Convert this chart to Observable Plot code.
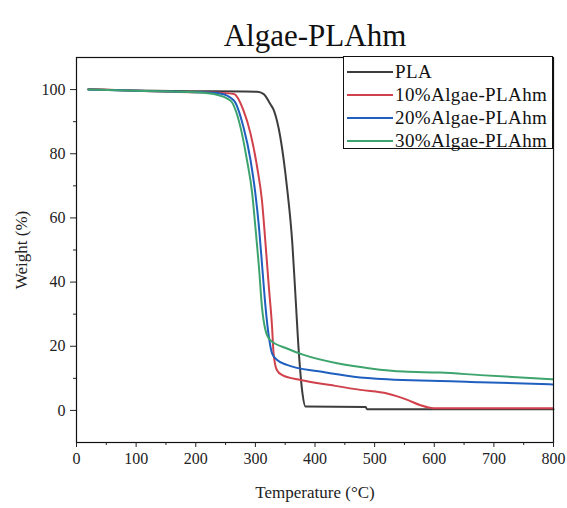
<!DOCTYPE html>
<html>
<head>
<meta charset="utf-8">
<script src="https://cdn.jsdelivr.net/npm/d3@7"></script>
<script src="https://cdn.jsdelivr.net/npm/@observablehq/plot@0.6"></script>
<style>
  html, body { margin: 0; padding: 0; background: #fff; }
  #wrap { position: relative; width: 567px; height: 508px; font-family: "Liberation Serif", "Times New Roman", serif; }
  #legend { position: absolute; left: 343px; top: 56px; width: 208px; height: 91px; border: 1.3px solid #111; background: #fff; }
  .row { position: absolute; left: 0; height: 22px; display: flex; align-items: center; }
  .row svg { margin-left: 3px; }
  .row span { font-family: "Liberation Serif", "Times New Roman", serif; font-size: 19px; color: #111; margin-left: 2px; letter-spacing: 0.4px; }
  #wrap svg text { font-family: "Liberation Serif", "Times New Roman", serif !important; }
</style>
</head>
<body>
<div id="wrap"></div>
<script>
const seriesNames = ["PLA", "10%Algae-PLAhm", "20%Algae-PLAhm", "30%Algae-PLAhm"];
const seriesColors = ["#3d3d3d", "#d0414b", "#1f5fbf", "#3ca46c"];

const plaT = [20, 100, 200, 280, 303, 314, 325, 331, 342, 353, 362, 367, 373, 379, 384, 485, 487, 800];
const plaW = [100, 99.7, 99.5, 99.4, 99.3, 98.6, 95.5, 93.5, 85, 69.6, 52, 36.5, 17.8, 5.3, 1.2, 1.1, 0.4, 0.4];

const alg10T = [20, 100, 200, 240, 264, 280, 292, 303, 311, 317, 322.6, 328, 330.5, 336, 345, 376, 426, 476, 521, 555, 577, 599, 798];
const alg10W = [100.2, 99.6, 99.2, 99.0, 98.6, 93.5, 86.2, 75.8, 65.5, 52, 38.5, 26, 17.8, 12.6, 11.0, 9.5, 7.9, 6.4, 5.3, 3.3, 1.6, 0.7, 0.7];

const alg20T = [20, 100, 200, 240, 264, 280, 292, 300, 306, 311.5, 317, 322.6, 328, 336.5, 353, 409, 465, 521, 577, 610, 677, 798];
const alg20W = [100, 99.6, 99.2, 98.8, 96.6, 88.3, 77.9, 67.6, 57.2, 44.7, 32.3, 23, 17.8, 15.7, 14.2, 12.1, 10.5, 9.7, 9.3, 9.2, 8.8, 8.1];

const alg30T = [20, 100, 200, 230, 258, 275, 286, 294.7, 300, 306, 311, 317, 325, 353, 381, 437, 493, 549, 610, 677, 798];
const alg30W = [100, 99.6, 99.2, 98.6, 96.6, 88.3, 77.9, 67.6, 57.2, 44.7, 32.3, 25, 21.9, 19.3, 17.3, 14.7, 13.1, 12.1, 11.8, 11.0, 9.7];

const xTicks = [0, 100, 200, 300, 400, 500, 600, 700, 800];
const xMinor = [50, 150, 250, 350, 450, 550, 650, 750];
const yTicks = [0, 20, 40, 60, 80, 100];
const yMinor = [10, 30, 50, 70, 90];

const allT = [plaT, alg10T, alg20T, alg30T];
const allW = [plaW, alg10W, alg20W, alg30W];
const data = [];
allT.forEach((ts, i) => ts.forEach((t, j) => data.push({series: seriesNames[i], T: t, W: allW[i][j]})));

const font = '"Liberation Serif", "Times New Roman", serif';

const chart = Plot.plot({
  width: 567,
  height: 508,
  marginLeft: 76,
  marginRight: 14,
  marginTop: 57,
  marginBottom: 66,
  style: {fontFamily: font, background: "#fff", color: "#222"},
  x: {domain: [0, 800]},
  y: {domain: [-10, 110]},
  color: {domain: seriesNames, range: seriesColors},
  marks: [
    Plot.line(data, {x: "T", y: "W", z: "series", stroke: "series", strokeWidth: 2, curve: "monotone-x"}),
    Plot.frame({stroke: "#111", strokeWidth: 1.2}),
    Plot.axisX({ticks: xTicks, tickSize: 5, tickPadding: 5, fontSize: 16, label: "Temperature (°C)", labelAnchor: "center", labelArrow: false, labelOffset: 55}),
    Plot.axisX({ticks: xMinor, tickSize: 3, text: null, label: null}),
    Plot.axisY({ticks: yTicks, tickSize: 6, tickPadding: 5, fontSize: 16, label: "Weight (%)", labelAnchor: "center", labelArrow: false, labelOffset: 62}),
    Plot.axisY({ticks: yMinor, tickSize: 3, text: null, label: null}),
    Plot.text(["Algae-PLAhm"], {frameAnchor: "top", dy: -34, fontSize: 31, fontFamily: font, fill: "#111"})
  ]
});
chart.querySelectorAll("g[aria-label='x-axis label'] text, g[aria-label='y-axis label'] text").forEach(t => t.setAttribute("font-size", "17"));

const wrap = document.getElementById("wrap");
wrap.appendChild(chart);

const legend = document.createElement("div");
legend.id = "legend";
const rowTops = [4, 27, 50, 73];
seriesNames.forEach((name, i) => {
  const row = document.createElement("div");
  row.className = "row";
  row.style.top = rowTops[i] + "px";
  row.innerHTML = `<svg width="46" height="4"><line x1="0" y1="2" x2="46" y2="2" stroke="${seriesColors[i]}" stroke-width="2.2"/></svg><span>${name}</span>`;
  legend.appendChild(row);
});
wrap.appendChild(legend);
</script>
</body>
</html>
